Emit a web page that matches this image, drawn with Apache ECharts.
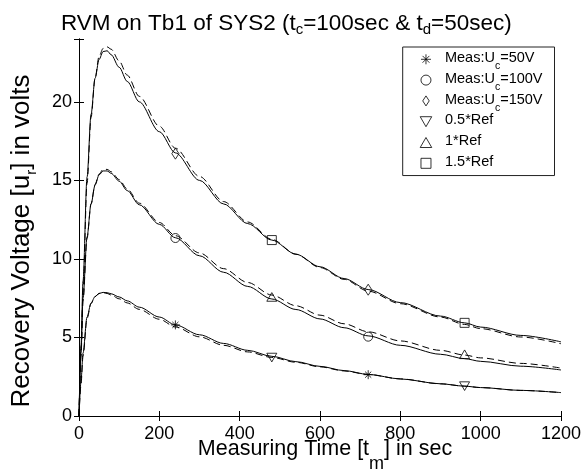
<!DOCTYPE html>
<html><head><meta charset="utf-8">
<script src="https://cdn.jsdelivr.net/npm/echarts@6/dist/echarts.min.js"></script>
<style>html,body{margin:0;padding:0;background:#fff}#c{width:587px;height:472px}</style>
</head><body><div id="c"></div>
<script>
// ---- data ----
const timeSec = [0,5,10,20,30,40,50,60,70,80,100,120,150,200,240,300,360,420,480,540,600,660,720,800,900,960,1000,1100,1200];
// solid curves
const curve50  = [0,2.2,4.0,6.3,7.2,7.6,7.8,7.87,7.85,7.78,7.58,7.33,6.93,6.3,5.8,5.17,4.62,4.18,3.8,3.46,3.16,2.89,2.65,2.36,2.05,1.9,1.81,1.63,1.49];
const curve100 = [0,4.0,7.5,11.4,13.5,14.7,15.35,15.6,15.6,15.45,14.95,14.35,13.45,12.2,11.35,10.2,9.15,8.25,7.45,6.78,6.18,5.62,5.1,4.5,3.93,3.65,3.48,3.17,2.93];
const curve150 = [0,4.5,8.6,15.2,19.2,21.5,22.7,23.2,23.25,23.0,22.2,21.3,20.0,18.1,16.75,15.0,13.5,12.25,11.2,10.3,9.5,8.75,8.05,7.22,6.36,5.93,5.66,5.13,4.72];
// dashed curves
const ref05 = [0,2.0,3.8,6.2,7.15,7.6,7.8,7.85,7.8,7.7,7.46,7.2,6.79,6.16,5.67,5.04,4.5,4.08,3.73,3.42,3.13,2.87,2.64,2.36,2.05,1.9,1.81,1.63,1.49];
const ref10 = [0,3.8,7.3,11.3,13.5,14.75,15.4,15.7,15.7,15.55,15.05,14.45,13.55,12.32,11.48,10.38,9.38,8.5,7.7,7.02,6.42,5.87,5.36,4.78,4.18,3.88,3.7,3.35,3.05];
const ref15 = [0,4.0,8.0,14.8,19.0,21.5,22.9,23.4,23.5,23.35,22.6,21.7,20.35,18.45,17.05,15.25,13.65,12.35,11.25,10.3,9.45,8.7,7.95,7.15,6.3,5.83,5.56,5.03,4.6];
// marker points
const markT1 = [240, 720];
const markT2 = [480, 960];
const measU50  = [5.8, 2.63];
const measU100 = [11.33, 5.05];
const measU150 = [16.7, 8.04];
const ref05Pts = [3.72, 1.9];
const ref10Pts = [7.58, 3.93];
const ref15Pts = [11.2, 5.93];
const yTicks = [0,5,10,15,20];
const legendNames = ['Meas:Uc=50V','Meas:Uc=100V','Meas:Uc=150V','0.5*Ref','1*Ref','1.5*Ref'];

const FF = '"Liberation Sans", Arial, Helvetica, sans-serif';
const pair = (ts, ys) => ts.map((t, i) => [t, ys[i]]);

const chart = echarts.init(document.getElementById('c'), null, {renderer: 'canvas'});

function lineSeries(data, dashed) {
  return {
    type: 'line', data: pair(timeSec, data), showSymbol: false, smooth: 0.3, smoothMonotone: 'x',
    lineStyle: {color: '#000', width: 1, type: dashed ? [7, 4] : 'solid'},
    silent: true, z: 2
  };
}
const hollow = {color: 'rgba(0,0,0,0)', borderColor: '#000', borderWidth: 1};
function scatterSeries(name, ts, ys, symbol, size) {
  return {type: 'scatter', name, data: pair(ts, ys), symbol, symbolSize: size, symbolKeepAspect: true,
    itemStyle: hollow, z: 5, silent: true};
}
const STAR = 'path://M5 0 L5 10 M0 5 L10 5 M1.6 1.6 L8.4 8.4 M8.4 1.6 L1.6 8.4';
const DIAM = 'path://M3.9 0 L7.8 6 L3.9 12 L0 6 Z';
const TDOWN = 'path://M0 0 L10 0 L5 8.66 Z';
const TUP = 'path://M5 0 L10 8.66 L0 8.66 Z';
const SQ = 'path://M0 0 L10 0 L10 10 L0 10 Z';

// main token centred at lineTop + fm/2, subscript at lineTop + p + fs/2
const subRich = (fm, lm, fs, ls, p) => ({
  m: {fontSize: fm, fontFamily: FF, fontWeight: 'normal', color: '#000', lineHeight: lm, verticalAlign: 'top'},
  s: {fontSize: fs, fontFamily: FF, fontWeight: 'normal', color: '#000', lineHeight: ls, verticalAlign: 'top', padding: [p, 0, 0, 0]}
});

const axisCommon = {
  axisLine: {show: true, lineStyle: {color: '#000', width: 1}},
  axisTick: {show: true, inside: true, length: 5, lineStyle: {color: '#000'}},
  splitLine: {show: false}
};

chart.setOption({
  animation: false,
  backgroundColor: '#fff',
  title: {
    left: 61, top: 12, padding: 0,
    text: '{m|RVM on Tb1 of SYS2 (t}{s|c}{m|=100sec & t}{s|d}{m|=50sec)}',
    textStyle: {fontWeight: 'normal', rich: subRich(22.5, 28, 15, 15, 10.8)}
  },
  grid: {left: 79, right: 26, top: 39, bottom: 56},
  xAxis: [
    Object.assign({type: 'value', min: 0, max: 1200, interval: 200, position: 'bottom',
      axisLabel: {fontSize: 18, fontFamily: FF, color: '#000', margin: 9, formatter: v => String(v)}}, axisCommon),
    Object.assign({type: 'value', min: 0, max: 1200, interval: 200, position: 'top',
      axisLabel: {show: false}}, axisCommon)
  ],
  yAxis: [
    Object.assign({type: 'value', min: 0, max: 24, interval: 5, position: 'left',
      axisLabel: {fontSize: 18, fontFamily: FF, color: '#000', margin: 7,
        formatter: v => yTicks.includes(v) ? String(v) : ''}}, axisCommon),
    Object.assign({type: 'value', min: 0, max: 24, interval: 5, position: 'right',
      axisLabel: {show: false}}, axisCommon)
  ],
  legend: {
    data: legendNames, orient: 'vertical', left: 402.7, top: 47,
    padding: [3.45, 12, 0, 17], itemGap: -0.3, itemWidth: 28, itemHeight: 10,
    backgroundColor: '#fff', borderColor: '#222', borderWidth: 1, borderRadius: 0,
    selectedMode: false,
    itemStyle: {color: 'rgba(0,0,0,0)', borderColor: '#000', borderWidth: 1},
    formatter: name => name.indexOf('Uc') >= 0
      ? '{m|' + name.replace('Uc', 'U}{s|c}{m|') + '}'
      : '{m|' + name + '}{s| }',
    textStyle: {fontSize: 14.5, fontFamily: FF, color: '#000', lineHeight: 17.7,
      rich: subRich(14.5, 17.7, 10.5, 10, 10.1)}
  },
  graphic: [
    {type: 'text', x: 325, y: 438.3, silent: true,
      style: {text: '{m|Measuring Time [t}{s|m}{m|] in sec}', textAlign: 'center', textVerticalAlign: 'top',
        rich: subRich(21.5, 24, 18, 18, 16.3)}},
    {type: 'text', x: 8.5, y: 241, rotation: Math.PI / 2, silent: true,
      style: {text: '{m|Recovery Voltage [u}{s|r}{m|] in volts}', textAlign: 'center', textVerticalAlign: 'top',
        rich: subRich(26, 28, 15, 15, 16)}}
  ],
  series: [
    lineSeries(curve50, false), lineSeries(curve100, false), lineSeries(curve150, false),
    lineSeries(ref05, true), lineSeries(ref10, true), lineSeries(ref15, true),
    scatterSeries('Meas:Uc=50V', markT1, measU50, STAR, 9),
    scatterSeries('Meas:Uc=100V', markT1, measU100, 'circle', 9),
    scatterSeries('Meas:Uc=150V', markT1, measU150, DIAM, 11),
    scatterSeries('0.5*Ref', markT2, ref05Pts, TDOWN, 10),
    scatterSeries('1*Ref', markT2, ref10Pts, TUP, 10),
    scatterSeries('1.5*Ref', markT2, ref15Pts, SQ, 9)
  ]
});
</script></body></html>
